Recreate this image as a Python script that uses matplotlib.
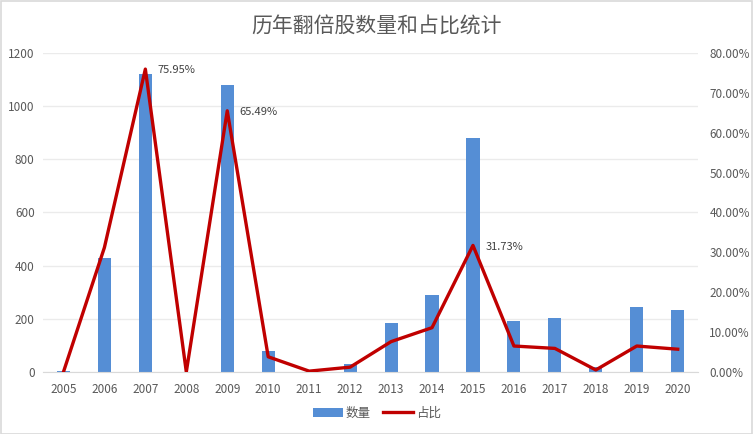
import matplotlib
matplotlib.use("Agg")
import matplotlib.pyplot as plt
from matplotlib.patches import Rectangle
from matplotlib.ticker import FuncFormatter

plt.rcParams["font.family"] = ["Noto Sans CJK SC", "DejaVu Sans"]

years = ["2005", "2006", "2007", "2008", "2009", "2010", "2011", "2012",
         "2013", "2014", "2015", "2016", "2017", "2018", "2019", "2020"]
counts = [5, 427, 1121, 0, 1079, 80, 0, 28, 185, 290, 879, 192, 204, 18, 245, 234]
ratios = [0.0, 31.2, 75.95, 0.0, 65.49, 3.8, 0.2, 1.2, 7.6, 11.1, 31.73, 6.5, 5.9, 0.5, 6.5, 5.7]
labelled = {"2007": "75.95%", "2009": "65.49%", "2015": "31.73%"}

BLUE = "#558ED5"
RED = "#C00000"
GRAY = "#595959"

fig = plt.figure(figsize=(7.54, 4.34), dpi=100)
fig.patch.set_facecolor("white")
fig.patches.append(Rectangle((0.001, 0.001), 0.997, 0.996, transform=fig.transFigure,
                             fill=False, edgecolor="#D9D9D9", linewidth=1.2))

ax = fig.add_axes([0.057, 0.143, 0.869, 0.735])
x = list(range(len(years)))
bars = ax.bar(x, counts, width=0.32, color=BLUE, label="数量", zorder=2)
ax.set_xlim(-0.5, len(years) - 0.5)
ax.set_ylim(0, 1200)
ax.set_yticks(range(0, 1201, 200))
ax.set_xticks(x)
ax.set_xticklabels(years)
ax.grid(axis="y", color="#EBEBEB", linewidth=1, zorder=0)
for s in ["top", "right", "left"]:
    ax.spines[s].set_visible(False)
ax.spines["bottom"].set_color("#D9D9D9")
ax.tick_params(axis="both", length=0, labelsize=8.5, colors=GRAY)
ax.tick_params(axis="x", pad=8)
ax.tick_params(axis="y", pad=6)

ax2 = ax.twinx()
line, = ax2.plot(x, ratios, color=RED, linewidth=2.4, label="占比", zorder=3)
ax2.set_ylim(0, 80)
ax2.set_yticks(range(0, 81, 10))
ax2.yaxis.set_major_formatter(FuncFormatter(lambda v, p: f"{v:.2f}%"))
for s in ["top", "right", "left", "bottom"]:
    ax2.spines[s].set_visible(False)
ax2.tick_params(axis="y", length=0, labelsize=8.5, colors=GRAY, pad=8)

for i, yr in enumerate(years):
    if yr in labelled:
        ax2.annotate(labelled[yr], (i, ratios[i]), xytext=(9, -1), textcoords="offset points",
                     ha="left", va="center", fontsize=8, color="#404040")

fig.text(0.5, 0.938, "历年翻倍股数量和占比统计", ha="center", va="center", fontsize=15, color=GRAY)
fig.legend([bars, line], ["数量", "占比"], loc="center", bbox_to_anchor=(0.5, 0.048),
           ncol=2, frameon=False, fontsize=9, handlelength=2.4, columnspacing=1.0,
           labelcolor=GRAY, handletextpad=0.2)

fig.savefig("out.png", dpi=100)
